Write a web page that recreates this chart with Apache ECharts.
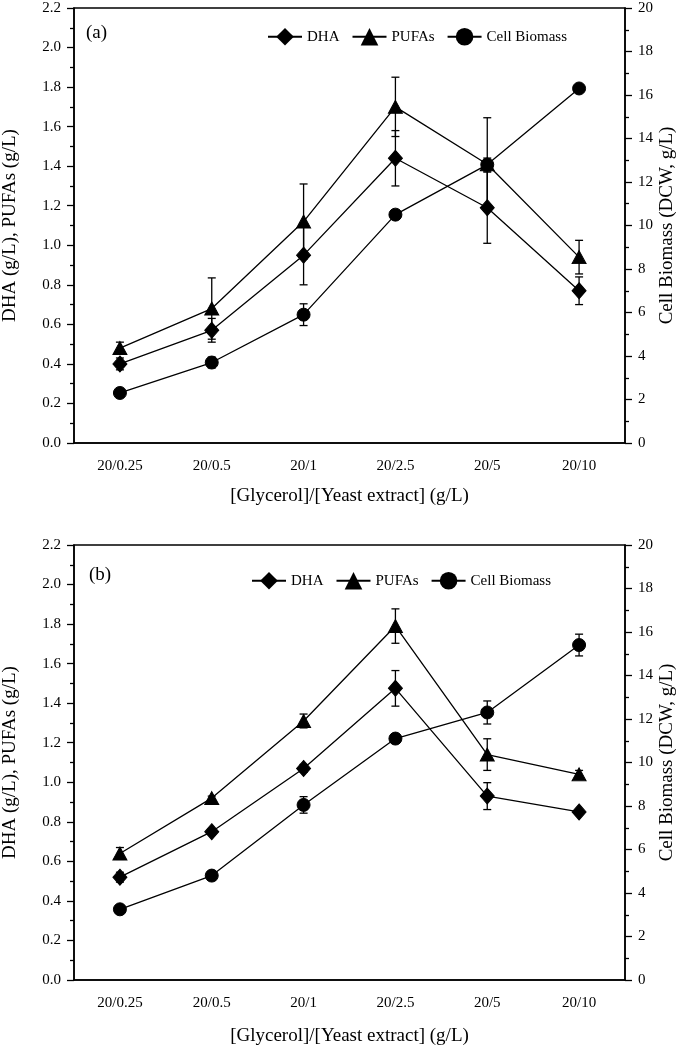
<!DOCTYPE html>
<html>
<head>
<meta charset="utf-8">
<script src="https://cdn.jsdelivr.net/npm/echarts@6/dist/echarts.min.js"></script>
<style>
html,body{margin:0;padding:0;background:#fff;}
#chart{width:680px;height:1048px;}
</style>
</head>
<body>
<div id="chart"></div>
<script>
// ---- data ----
var categories = ['20/0.25', '20/0.5', '20/1', '20/2.5', '20/5', '20/10'];
var leftTicks = [0.0, 0.2, 0.4, 0.6, 0.8, 1.0, 1.2, 1.4, 1.6, 1.8, 2.0, 2.2];
var rightTicks = [0, 2, 4, 6, 8, 10, 12, 14, 16, 18, 20];

// panel (a)
var dhaA = [0.40, 0.57, 0.95, 1.44, 1.19, 0.77];
var dhaErrA = [0.03, 0.06, 0.15, 0.14, 0.18, 0.07];
var pufaA = [0.48, 0.68, 1.12, 1.70, 1.41, 0.94];
var pufaErrA = [0.03, 0.155, 0.19, 0.15, 0.235, 0.085];
var cellA = [2.3, 3.7, 5.9, 10.5, 12.8, 16.3];
var cellErrA = [0.1, 0.25, 0.5, 0.2, 0.3, 0.1];

// panel (b)
var dhaB = [0.52, 0.75, 1.07, 1.475, 0.93, 0.85];
var dhaErrB = [0.025, 0.015, 0.02, 0.09, 0.068, 0.01];
var pufaB = [0.64, 0.92, 1.31, 1.79, 1.14, 1.04];
var pufaErrB = [0.03, 0.01, 0.035, 0.087, 0.08, 0.02];
var cellB = [3.25, 4.8, 8.05, 11.1, 12.3, 15.4];
var cellErrB = [0.1, 0.2, 0.38, 0.15, 0.53, 0.5];

var FONT = 'Liberation Serif';
var chart = echarts.init(document.getElementById('chart'), null, {renderer: 'canvas'});

function errData(vals, errs) {
  return vals.map(function (v, i) { return [i, v, errs[i]]; });
}

function errSeries(name, xi, yi, vals, errs) {
  return {
    type: 'custom',
    name: name + ' err',
    xAxisIndex: xi,
    yAxisIndex: yi,
    z: 1,
    silent: true,
    data: errData(vals, errs),
    encode: {x: 0, y: 1},
    renderItem: function (params, api) {
      var x = api.value(0), y = api.value(1), e = api.value(2);
      var top = api.coord([x, y + e]);
      var bot = api.coord([x, y - e]);
      var w = 4;
      var st = {stroke: '#000', lineWidth: 1.3};
      return {
        type: 'group',
        children: [
          {type: 'line', shape: {x1: top[0], y1: top[1], x2: bot[0], y2: bot[1]}, style: st},
          {type: 'line', shape: {x1: top[0] - w, y1: top[1], x2: top[0] + w, y2: top[1]}, style: st},
          {type: 'line', shape: {x1: bot[0] - w, y1: bot[1], x2: bot[0] + w, y2: bot[1]}, style: st}
        ]
      };
    }
  };
}

function lineSeries(name, xi, yi, vals, symbol, size) {
  return {
    type: 'line',
    name: name,
    xAxisIndex: xi,
    yAxisIndex: yi,
    data: vals,
    symbol: symbol,
    symbolSize: size,
    showSymbol: true,
    z: 3,
    lineStyle: {color: '#000', width: 1.3},
    itemStyle: {color: '#000', borderColor: '#000'},
    emphasis: {disabled: true}
  };
}

function grid(top) {
  return {left: 74, right: 55, top: top, height: 435, show: true,
          outerBoundsMode: 'none', containLabel: false,
          borderColor: '#000', borderWidth: 1.5, backgroundColor: 'transparent'};
}

function xAxes(gi, gap) {
  return [
    {
      type: 'category', gridIndex: gi, data: categories, boundaryGap: true,
      name: '[Glycerol]/[Yeast extract] (g/L)', nameLocation: 'middle', nameGap: gap,
      nameMoveOverlap: false,
      nameTextStyle: {fontFamily: FONT, fontSize: 19, color: '#000'},
      axisLine: {lineStyle: {color: '#000', width: 1.5}},
      axisTick: {alignWithLabel: true, length: 6, lineStyle: {color: '#000', width: 1.3}},
      axisLabel: {fontFamily: FONT, fontSize: 15, color: '#000', margin: 16},
      splitLine: {show: false}
    },
    {
      type: 'category', gridIndex: gi, data: categories, boundaryGap: true, position: 'bottom',
      axisLine: {show: false},
      axisTick: {length: 3, lineStyle: {color: '#000', width: 1.3}},
      axisLabel: {show: false},
      splitLine: {show: false}
    }
  ];
}

function yAxes(gi) {
  return [
    {
      type: 'value', gridIndex: gi, position: 'left', min: 0, max: 2.2, interval: 0.2,
      name: 'DHA (g/L), PUFAs (g/L)', nameLocation: 'middle', nameGap: 54, nameRotate: 90,
      nameMoveOverlap: false,
      nameTextStyle: {fontFamily: FONT, fontSize: 19, color: '#000'},
      axisLine: {show: true, lineStyle: {color: '#000', width: 1.5}},
      axisTick: {show: true, length: 7, lineStyle: {color: '#000', width: 1.3}},
      minorTick: {show: true, splitNumber: 2, length: 4, lineStyle: {color: '#000', width: 1.3}},
      axisLabel: {fontFamily: FONT, fontSize: 15, color: '#000', margin: 13,
                  formatter: function (v) { return v.toFixed(1); }},
      splitLine: {show: false}
    },
    {
      type: 'value', gridIndex: gi, position: 'right', min: 0, max: 20, interval: 2,
      name: 'Cell Biomass (DCW, g/L)', nameLocation: 'middle', nameGap: 33, nameRotate: 90,
      nameMoveOverlap: false,
      nameTextStyle: {fontFamily: FONT, fontSize: 19, color: '#000'},
      axisLine: {show: true, lineStyle: {color: '#000', width: 1.5}},
      axisTick: {show: true, length: 7, lineStyle: {color: '#000', width: 1.3}},
      minorTick: {show: true, splitNumber: 2, length: 4, lineStyle: {color: '#000', width: 1.3}},
      axisLabel: {fontFamily: FONT, fontSize: 15, color: '#000', margin: 13},
      splitLine: {show: false}
    }
  ];
}

function legend(left, top) {
  return {
    left: left, top: top, itemWidth: 34, itemHeight: 22, itemGap: 12,
    data: ['DHA', 'PUFAs', 'Cell Biomass'],
    textStyle: {fontFamily: FONT, fontSize: 15, color: '#000'},
    selectedMode: false
  };
}

var option = {
  animation: false,
  backgroundColor: '#fff',
  title: [
    {text: '(a)', left: 81, top: 19, textStyle: {fontFamily: FONT, fontSize: 19, fontWeight: 'normal', color: '#000'}},
    {text: '(b)', left: 84, top: 561, textStyle: {fontFamily: FONT, fontSize: 19, fontWeight: 'normal', color: '#000'}}
  ],
  legend: [legend(262, 23), legend(246, 567)],
  grid: [grid(8), grid(545)],
  xAxis: xAxes(0, 44).concat(xAxes(1, 47)),
  yAxis: yAxes(0).concat(yAxes(1)),
  series: [
    errSeries('DHA', 0, 0, dhaA, dhaErrA),
    errSeries('PUFAs', 0, 0, pufaA, pufaErrA),
    errSeries('Cell Biomass', 0, 1, cellA, cellErrA),
    lineSeries('DHA', 0, 0, dhaA, 'diamond', [14, 16]),
    lineSeries('PUFAs', 0, 0, pufaA, 'triangle', [14, 13]),
    lineSeries('Cell Biomass', 0, 1, cellA, 'circle', 13),
    errSeries('DHA', 2, 2, dhaB, dhaErrB),
    errSeries('PUFAs', 2, 2, pufaB, pufaErrB),
    errSeries('Cell Biomass', 2, 3, cellB, cellErrB),
    lineSeries('DHA', 2, 2, dhaB, 'diamond', [14, 16]),
    lineSeries('PUFAs', 2, 2, pufaB, 'triangle', [14, 13]),
    lineSeries('Cell Biomass', 2, 3, cellB, 'circle', 13)
  ]
};
chart.setOption(option);
</script>
</body>
</html>
